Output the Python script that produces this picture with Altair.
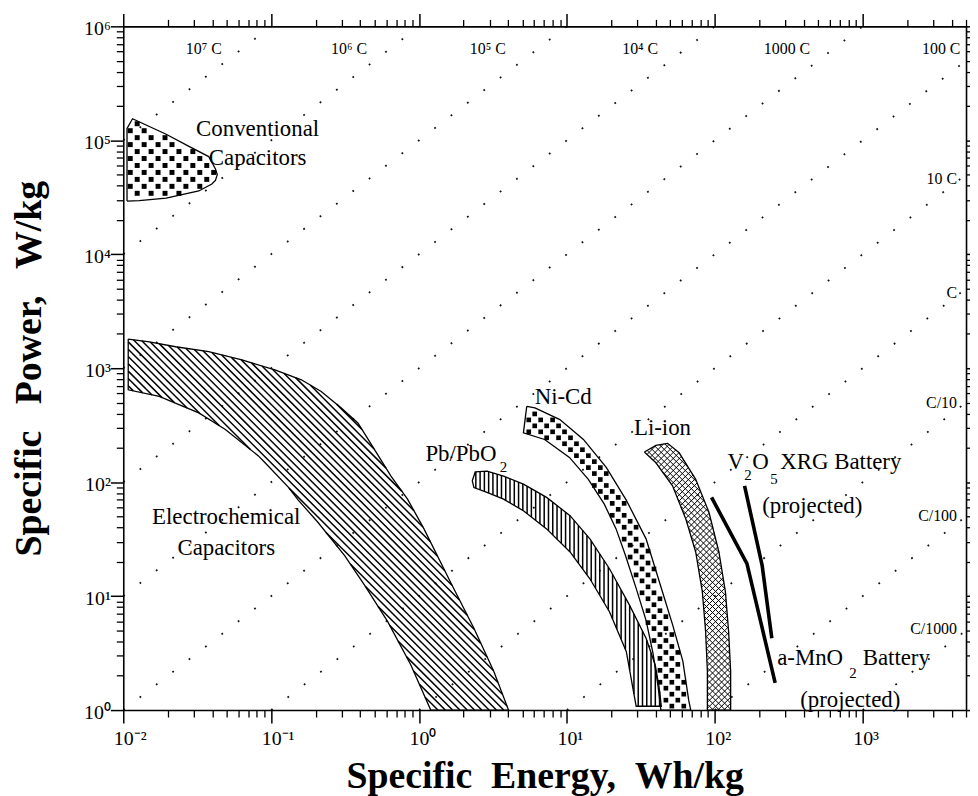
import math
import pandas as pd
import altair as alt

# ---------------- data ----------------
rates = [1e7, 1e6, 1e5, 1e4, 1e3, 1e2, 10, 1, 0.1, 0.01, 0.001]

top_rate_text = ["10⁷ C", "10⁶ C", "10⁵ C", "10⁴ C", "1000 C", "100 C"]
top_rate_E = [0.035, 0.336, 2.92, 31.3, 308, 3400]
top_rate_P = [6.34e5, 6.34e5, 6.34e5, 6.34e5, 6.34e5, 6.34e5]
side_rate_text = ["10 C", "C", "C/10", "C/100", "C/1000"]
side_rate_E = [4345, 4345, 4345, 4345, 4345]
side_rate_P = [4.56e4, 4540, 498, 50.5, 5.12]

x_major = [0.01, 0.1, 1, 10, 100, 1000]
x_major_text = ["10⁻²", "10⁻¹", "10⁰", "10¹", "10²", "10³"]
y_major = [1, 10, 100, 1e3, 1e4, 1e5, 1e6]
y_major_text = ["10⁰", "10¹", "10²", "10³", "10⁴", "10⁵", "10⁶"]
minor_mult = [2, 3, 4, 5, 6, 7, 8, 9]

conv_E = [0.0106, 0.0106, 0.01155, 0.0195, 0.0278, 0.0378, 0.0420, 0.0432, 0.0420, 0.0397, 0.0324, 0.0195, 0.0128]
conv_P = [2.93e4, 1.27e5, 1.545e5, 1.13e5, 8.85e4, 7.2e4, 5.6e4, 5.0e4, 4.45e4, 4.13e4, 3.59e4, 3.11e4, 2.95e4]

ec_E = [0.0108, 0.015, 0.0226, 0.0378, 0.0634, 0.106, 0.160, 0.218, 0.298, 0.386, 0.499, 0.646, 0.836,
        1.08, 1.63, 2.35, 3.20, 4.03,
        1.20, 0.879, 0.614, 0.428, 0.314, 0.207, 0.152, 0.131, 0.091, 0.082, 0.049, 0.0324, 0.0175, 0.0108]
ec_P = [1800, 1706, 1543, 1396, 1181, 966, 791, 625, 448, 331, 194, 113, 71,
        38.9, 13.3, 5.22, 2.19, 1.0,
        1.0, 2.50, 5.97, 12.5, 22.7, 44.5, 70, 90, 148, 170, 290, 405, 565, 647]

pb_E = [2.29, 2.40, 2.88, 3.73, 5.08, 7.29, 10.5, 14.3, 19.4, 26.5, 34.3, 39.5, 42.0, 43.5,
        29.4, 25.2, 19.4, 14.3, 10.5, 7.29, 5.08, 3.73, 2.88, 2.35]
pb_P = [103, 123, 125, 113, 96, 73.5, 50.8, 31.8, 17.4, 8.34, 4.27, 2.5, 1.6, 1.08,
        1.08, 3.27, 7.3, 14.2, 24.4, 38.9, 56.1, 71, 81.3, 89.8]

nicd_E = [5.35, 6.08, 8.96, 12.93, 18.45, 25.2, 34.3, 43.2, 52.0, 60.8, 66.7, 68.8,
          43.2, 41.3, 38.2, 34.3, 29.4, 24.8, 21.5, 17.9, 13.96, 10.4, 7.07, 5.08]
nicd_P = [462, 448, 354, 237, 135, 69.6, 31.8, 12.1, 5.54, 2.69, 1.21, 1.0,
          1.0, 1.63, 3.16, 6.13, 11.7, 23.1, 38.9, 64.2, 106, 165, 237, 271]

li_E = [33.4, 40.0, 48.0, 57.4, 74.3, 91.3, 106.6, 118, 124, 128, 128,
        89.1, 89.1, 86.7, 82.4, 74.3, 63.7, 51.8, 40.0]
li_P = [184, 210, 219, 181, 106, 54.4, 24.4, 10.9, 4.89, 2.19, 1.0,
        1.0, 2.19, 4.89, 10.9, 24.4, 47.5, 92.8, 148]

v2o5_E = [159, 209, 243]
v2o5_P = [92.8, 18.6, 4.27]
mno2_E = [95.1, 165, 256]
mno2_P = [73.5, 19.3, 1.73]

center_text = ["Conventional", "Capacitors", "Electrochemical", "Capacitors"]
center_E = [0.081, 0.081, 0.0497, 0.0497]
center_P = [1.245e5, 6.96e4, 49.5, 26.6]
left_text = ["Pb/PbO", "Ni-Cd", "Li-ion", "V", "O", "XRG Battery", "(projected)", "a-MnO", "Battery", "(projected)"]
left_E = [1.104, 6.05, 28.4, 122, 179.5, 277, 209, 264, 1000, 378]
left_P = [175, 562, 301, 149, 149, 149, 61.7, 2.86, 2.86, 1.23]
sub_text = ["2", "2", "5", "2"]
sub_E = [3.52, 158.5, 237, 810]
sub_P = [135, 115, 106, 2.11]

# ---------------- layout ----------------
W, H = 848, 688
XDOM = [0.01, 5000]
YDOM = [1, 1e6]
FONT = "Liberation Serif"
xs = alt.Scale(type="log", domain=XDOM, nice=False)
ys = alt.Scale(type="log", domain=YDOM, nice=False)
LX0, LX1 = math.log10(XDOM[0]), math.log10(XDOM[1])
LY0, LY1 = math.log10(YDOM[0]), math.log10(YDOM[1])


def px_x(e):
    return (math.log10(e) - LX0) / (LX1 - LX0) * W


def px_y(p):
    return H - (math.log10(p) - LY0) / (LY1 - LY0) * H


def to_data(x, y):
    return 10 ** (LX0 + x / W * (LX1 - LX0)), 10 ** (LY0 + (H - y) / H * (LY1 - LY0))


regions = {
    "conv": (conv_E, conv_P),
    "ec": (ec_E, ec_P),
    "pb": (pb_E, pb_P),
    "nicd": (nicd_E, nicd_P),
    "li": (li_E, li_P),
}
rows = []
for name, (E, P) in regions.items():
    Ec = list(E) + [E[0]]
    Pc = list(P) + [P[0]]
    for i, (e, p) in enumerate(zip(Ec, Pc)):
        rows.append({"region": name, "i": i, "E": e, "P": p})
poly_df = pd.DataFrame(rows)


def poly_px(name):
    E, P = regions[name]
    return [(px_x(e), px_y(p)) for e, p in zip(E, P)]


def inside(pts, x, y):
    c = False
    n = len(pts)
    for k in range(n):
        xa, ya = pts[k]
        xb, yb = pts[(k + 1) % n]
        if (ya > y) != (yb > y):
            xi = xa + (y - ya) * (xb - xa) / (yb - ya)
            if x < xi:
                c = not c
    return c


def hatch(name, angle_deg, period):
    """Pattern lines of a region, clipped to its outline (screen geometry)."""
    pts = poly_px(name)
    a = math.radians(angle_deg)
    nx, ny = math.cos(a), math.sin(a)
    dx, dy = -ny, nx
    proj = [nx * x + ny * y for x, y in pts]
    c = math.floor(min(proj) / period) * period + period / 2
    out = []
    n = len(pts)
    while c < max(proj):
        hits = []
        for k in range(n):
            xa, ya = pts[k]
            xb, yb = pts[(k + 1) % n]
            sa = nx * xa + ny * ya - c
            sb = nx * xb + ny * yb - c
            if (sa > 0) != (sb > 0):
                t = sa / (sa - sb)
                hits.append((xa + (xb - xa) * t, ya + (yb - ya) * t))
        hits.sort(key=lambda q: q[0] * dx + q[1] * dy)
        for k in range(0, len(hits) - 1, 2):
            e1, p1 = to_data(*hits[k])
            e2, p2 = to_data(*hits[k + 1])
            out.append({"region": name, "E1": e1, "P1": p1, "E2": e2, "P2": p2})
        c += period
    return out


def dots(name, d, half):
    """Staggered square-dot pattern inside a region (screen geometry)."""
    pts = poly_px(name)
    X = [p[0] for p in pts]
    Y = [p[1] for p in pts]
    out = []
    for i in range(math.floor(min(X) / d), math.ceil(max(X) / d) + 1):
        for j in range(math.floor(min(Y) / d), math.ceil(max(Y) / d) + 1):
            if (i + j) % 2:
                continue
            x, y = i * d, j * d
            if all(inside(pts, x + sx * half, y + sy * half) for sx in (-1, 1) for sy in (-1, 1)):
                e, p = to_data(x, y)
                out.append({"region": name, "E": e, "P": p})
    return out


rate_rows = []
for k, r in enumerate(rates):
    e_lo = max(XDOM[0], YDOM[0] / r)
    e_hi = min(XDOM[1], YDOM[1] / r)
    rate_rows.append({"rate": k, "E": e_lo, "P": r * e_lo})
    rate_rows.append({"rate": k, "E": e_hi, "P": r * e_hi})
rate_df = pd.DataFrame(rate_rows)

line_rows = []
for name, (E, P) in {"v2o5": (v2o5_E, v2o5_P), "mno2": (mno2_E, mno2_P)}.items():
    for i, (e, p) in enumerate(zip(E, P)):
        line_rows.append({"series": name, "i": i, "E": e, "P": p})
line_df = pd.DataFrame(line_rows)

# ---------------- axes ----------------
x_minor = [round(m * 10 ** k, 6) for k in range(-2, 4) for m in minor_mult if m * 10 ** k <= XDOM[1]]
y_minor = [round(m * 10 ** k, 6) for k in range(0, 6) for m in minor_mult]

x_expr = "[" + ",".join("'%s'" % s for s in x_major_text) + "][round(log(datum.value)/LN10)+2]"
y_expr = "[" + ",".join("'%s'" % s for s in y_major_text) + "][round(log(datum.value)/LN10)]"

common = dict(tickColor="black", domainColor="black", domainWidth=1.6, grid=False, zindex=1)

ax_bottom = alt.Axis(orient="bottom", values=x_major, tickSize=13, tickWidth=1.5, labels=True,
                     labelExpr=x_expr, labelFont=FONT, labelFontSize=20, labelColor="black",
                     labelAlign="left", labelBaseline="top", labelOffset=-10, labelPadding=6,
                     labelFlush=False, labelOverlap=False,
                     title="Specific\u2002Energy,\u2002Wh/kg", titleFont=FONT, titleFontSize=38,
                     titleFontWeight="bold", titleColor="black", titleX=W / 2, titleY=78,
                     titleAlign="center", titleBaseline="alphabetic", **common)
ax_left = alt.Axis(orient="left", values=y_major, tickSize=13, tickWidth=1.5, labels=True,
                   labelExpr=y_expr, labelFont=FONT, labelFontSize=20, labelColor="black",
                   labelAlign="right", labelBaseline="middle", labelOffset=2, labelPadding=0,
                   labelFlush=False, labelOverlap=False,
                   title="Specific\u2002\u2009Power,\u2002\u2009W/kg", titleFont=FONT, titleFontSize=38,
                   titleFontWeight="bold", titleColor="black", titleAngle=270, titleX=-94, titleY=H / 2,
                   titleAlign="center", titleBaseline="middle", **common)
ax_bottom_minor = alt.Axis(orient="bottom", values=x_minor, tickSize=7, tickWidth=1.3, labels=False,
                           domain=False, title=None, **common)
ax_left_minor = alt.Axis(orient="left", values=y_minor, tickSize=7, tickWidth=1.3, labels=False,
                         domain=False, title=None, **common)
ax_top = alt.Axis(orient="top", values=x_major, tickSize=13, tickWidth=1.5, labels=False,
                  title=None, **common)
ax_right = alt.Axis(orient="right", values=y_major, tickSize=13, tickWidth=1.5, labels=False,
                    title=None, **common)
ax_top_minor = alt.Axis(orient="top", values=x_minor, tickSize=7, tickWidth=1.3, labels=False,
                        domain=False, title=None, **common)
ax_right_minor = alt.Axis(orient="right", values=y_minor, tickSize=7, tickWidth=1.3, labels=False,
                          domain=False, title=None, **common)

carrier = pd.DataFrame({"E": [1.0], "P": [1.0]})
layers = []
for axx, axy in [(ax_bottom, ax_left), (ax_bottom_minor, ax_left_minor),
                 (ax_top, ax_right), (ax_top_minor, ax_right_minor)]:
    layers.append(alt.Chart(carrier).mark_point(opacity=0).encode(
        x=alt.X("E:Q", scale=xs, axis=axx), y=alt.Y("P:Q", scale=ys, axis=axy)))

# dotted constant-rate lines
layers.append(alt.Chart(rate_df).mark_line(color="#111111", strokeWidth=1.8, strokeDash=[1.8, 19],
                                           strokeCap="butt").encode(
    x=alt.X("E:Q", scale=xs, axis=None), y=alt.Y("P:Q", scale=ys, axis=None), detail="rate:N"))


def rule_layer(rows_, width):
    df = pd.DataFrame(rows_)
    return alt.Chart(df).mark_rule(color="black", strokeWidth=width, strokeCap="butt").encode(
        x=alt.X("E1:Q", scale=xs, axis=None), y=alt.Y("P1:Q", scale=ys, axis=None),
        x2="E2:Q", y2="P2:Q")


def dot_layer(rows_, size):
    df = pd.DataFrame(rows_)
    return alt.Chart(df).mark_square(color="black", size=size, opacity=1, filled=True,
                                     strokeWidth=0).encode(
        x=alt.X("E:Q", scale=xs, axis=None), y=alt.Y("P:Q", scale=ys, axis=None))


layers += [
    rule_layer(hatch("ec", -45, 5.2), 1.5),
    rule_layer(hatch("pb", 0, 4.3), 1.5),
    rule_layer(hatch("li", 45, 4.3) + hatch("li", -45, 4.3), 1.0),
    dot_layer(dots("conv", 7.0, 1.0), 25),
    dot_layer(dots("nicd", 6.0, 1.0), 22),
]

# outlines
layers.append(alt.Chart(poly_df).mark_line(color="black", strokeWidth=1.3).encode(
    x=alt.X("E:Q", scale=xs, axis=None), y=alt.Y("P:Q", scale=ys, axis=None),
    detail="region:N", order="i:Q"))

# projected battery lines
layers.append(alt.Chart(line_df).mark_line(color="black", strokeWidth=3.6, strokeCap="butt").encode(
    x=alt.X("E:Q", scale=xs, axis=None), y=alt.Y("P:Q", scale=ys, axis=None),
    detail="series:N", order="i:Q"))


def text_layer(texts, E, P, size, align):
    df = pd.DataFrame({"t": texts, "E": E, "P": P})
    return alt.Chart(df).mark_text(font=FONT, fontSize=size, align=align, baseline="middle",
                                   color="black").encode(
        x=alt.X("E:Q", scale=xs, axis=None), y=alt.Y("P:Q", scale=ys, axis=None), text="t:N")


layers += [
    text_layer(center_text, center_E, center_P, 23, "center"),
    text_layer(left_text, left_E, left_P, 23, "left"),
    text_layer(sub_text, sub_E, sub_P, 15, "left"),
    text_layer(top_rate_text, top_rate_E, top_rate_P, 16, "center"),
    text_layer(side_rate_text, side_rate_E, side_rate_P, 16, "right"),
]

chart = alt.layer(*layers).resolve_axis(x="independent", y="independent").properties(
    width=W, height=H,
    autosize=alt.AutoSizeParams(type="none"),
    padding={"left": 116, "top": 16, "right": 4, "bottom": 84},
    background="white",
).configure_view(stroke=None)

chart.save("out.html", embed_options={"renderer": "svg", "actions": False})
